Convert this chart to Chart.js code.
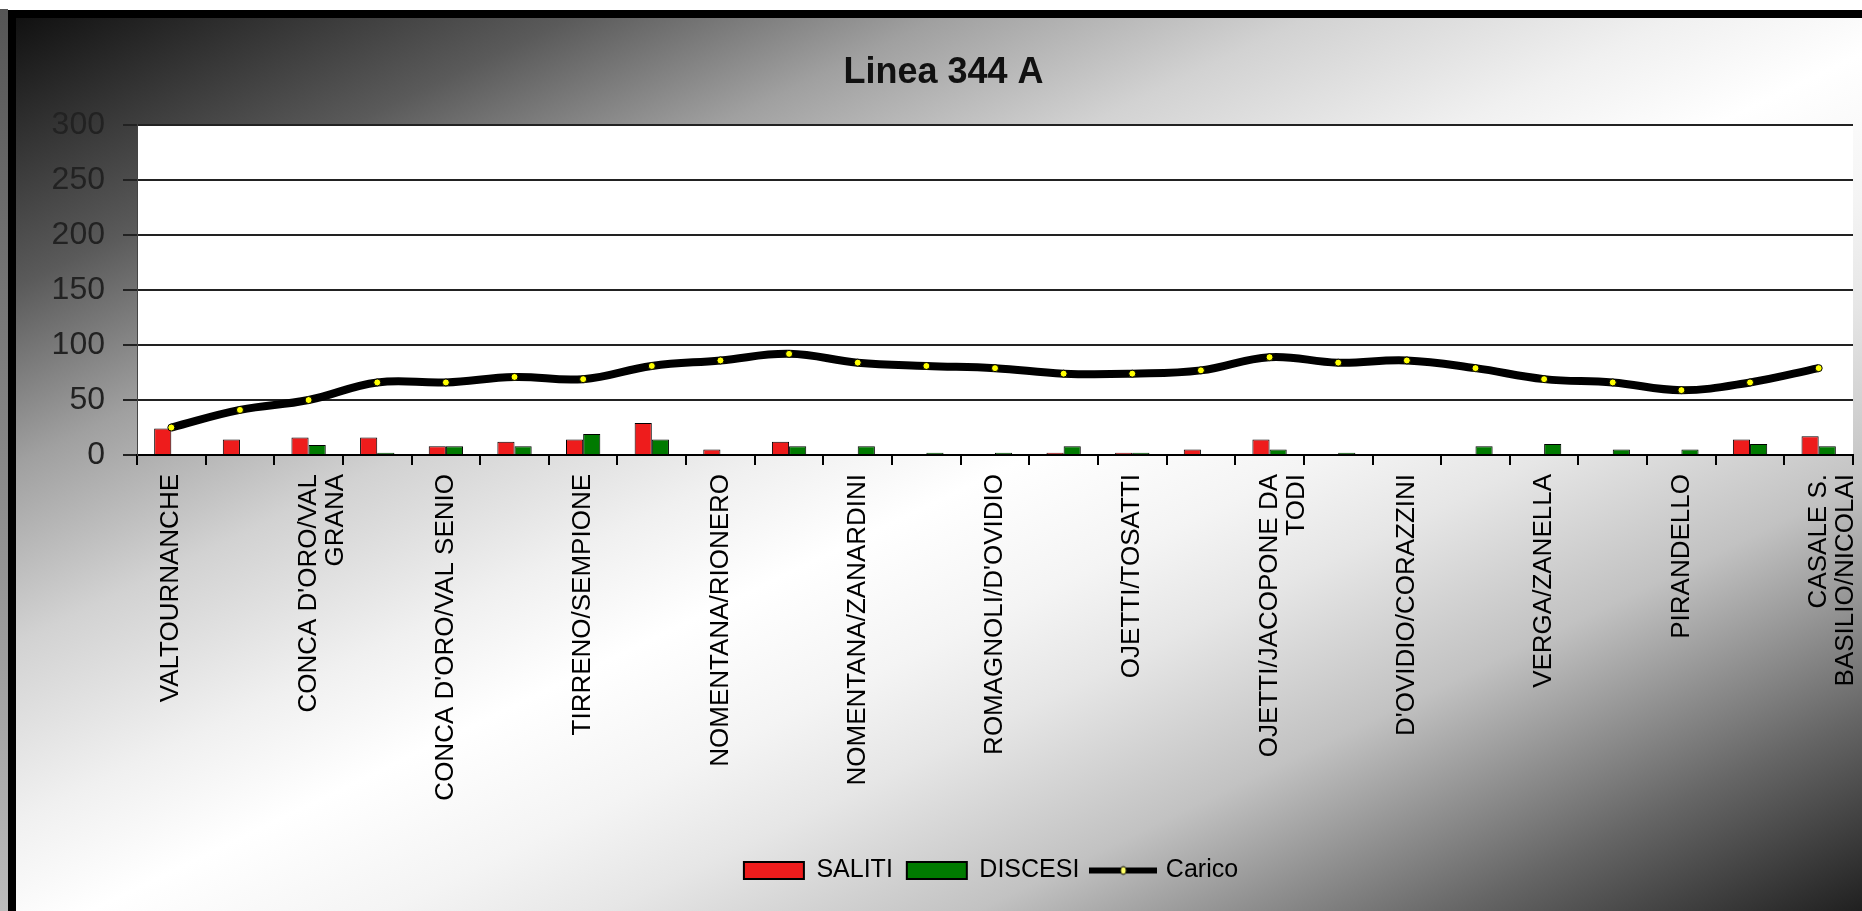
<!DOCTYPE html>
<html>
<head>
<meta charset="utf-8">
<title>Linea 344 A</title>
<script src="https://cdn.jsdelivr.net/npm/chart.js"></script>
<style>
    html, body { margin: 0; padding: 0; background: #fff; }
    body { width: 1862px; height: 911px; overflow: hidden; position: relative; }
    .edge { position: absolute; left: 0; top: 9px; width: 8px; height: 902px; background: linear-gradient(to bottom, #555, #bbb); }
    .frame { position: absolute; left: 8px; top: 10px; width: 1854px; height: 901px; box-sizing: border-box;
             border-top: 8px solid #000; border-left: 8px solid #000; }
    .inner { position: absolute; left: 0; top: 0; width: 1846px; height: 893px;
             background: linear-gradient(to bottom right, #111 0%, #5a5a5a 15%, #a0a0a0 25%, #d2d2d2 35%, #f0f0f0 45%, #fff 52%,
                         #f4f4f4 60%, #e6e6e6 66%, #c2c2c2 76%, #909090 83%, #666 89%, #202020 100%); }
</style>
</head>
<body>
<div class="edge"></div>
<div class="frame">
    <div class="inner">
        <canvas id="lineaChart"></canvas>
    </div>
</div>

<script>
// stops of line 344 A, only every other name is printed on the axis
const stops = [
    "VALTOURNANCHE", "",
    ["CONCA D'ORO/VAL", "GRANA"], "",
    "CONCA D'ORO/VAL SENIO", "",
    "TIRRENO/SEMPIONE", "",
    "NOMENTANA/RIONERO", "",
    "NOMENTANA/ZANARDINI", "",
    "ROMAGNOLI/D'OVIDIO", "",
    "OJETTI/TOSATTI", "",
    ["OJETTI/JACOPONE DA", "TODI"], "",
    "D'OVIDIO/CORAZZINI", "",
    "VERGA/ZANELLA", "",
    "PIRANDELLO", "",
    ["CASALE S.", "BASILIO/NICOLAI"]
];

const saliti  = [24, 14, 16, 16, 8, 12, 14, 29, 5, 12, 0, 0, 0, 2, 2, 5, 14, 0, 0, 0, 0, 0, 0, 14, 17];
const discesi = [0, 0, 9, 2, 8, 8, 19, 14, 0, 8, 8, 2, 2, 8, 2, 0, 5, 2, 0, 8, 10, 5, 5, 10, 8];
const carico  = [25, 41, 50, 66, 66, 71, 69, 81, 86, 92, 84, 81, 79, 74, 74, 77, 89, 84, 86, 79, 69, 66, 59, 66, 79];

const yTicks = [0, 50, 100, 150, 200, 250, 300];

Chart.defaults.font.family = "'Liberation Sans', Arial, sans-serif";
Chart.defaults.color = "#000";

// legend marker for the line: black stroke with a yellow point
function makeLineMarker() {
    const c = document.createElement("canvas");
    c.width = 68;
    c.height = 20;
    const g = c.getContext("2d");
    g.strokeStyle = "#000";
    g.lineWidth = 6;
    g.beginPath();
    g.moveTo(0, 10);
    g.lineTo(68, 10);
    g.stroke();
    g.fillStyle = "#ffff66";
    g.strokeStyle = "#000";
    g.lineWidth = 1;
    g.beginPath();
    g.ellipse(34, 10, 3, 4, 0, 0, Math.PI * 2);
    g.fill();
    g.stroke();
    return c;
}
const lineMarker = makeLineMarker();

const plotBackground = {
    id: "plotBackground",
    beforeDraw(chart) {
        const a = chart.chartArea;
        const ctx = chart.ctx;
        ctx.save();
        ctx.fillStyle = "#fff";
        ctx.fillRect(a.left, a.top, a.right - a.left, a.bottom - a.top);
        ctx.restore();
    }
};

// title and legend sit a bit right of the middle in the original
const blockShift = {
    id: "blockShift",
    afterLayout(chart) {
        if (chart.legend) chart.legend.left += 113;
        if (chart.titleBlock) chart.titleBlock.left += 18;
    }
};

new Chart(document.getElementById("lineaChart"), {
    type: "bar",
    data: {
        labels: stops,
        datasets: [
            {
                label: "SALITI",
                data: saliti,
                backgroundColor: "#ee1c1c",
                borderColor: "#000",
                borderWidth: 1,
                categoryPercentage: 0.5,
                barPercentage: 1.0,
                order: 1
            },
            {
                label: "DISCESI",
                data: discesi,
                backgroundColor: "#007a00",
                borderColor: "#000",
                borderWidth: 1,
                categoryPercentage: 0.5,
                barPercentage: 1.0,
                order: 1
            },
            {
                type: "line",
                label: "Carico",
                data: carico,
                borderColor: "#000",
                backgroundColor: "#ffff00",
                borderWidth: 8,
                tension: 0.4,
                pointRadius: 3.5,
                pointBackgroundColor: "#ffff00",
                pointBorderColor: "#000",
                pointBorderWidth: 1,
                order: 0
            }
        ]
    },
    options: {
        responsive: true,
        maintainAspectRatio: false,
        animation: false,
        layout: { padding: { left: 0, right: 9, top: 0, bottom: 18 } },
        plugins: {
            title: {
                display: true,
                text: "Linea 344 A",
                color: "#111",
                font: { size: 36, weight: "bold" },
                padding: { top: 33, bottom: 31 }
            },
            legend: {
                position: "bottom",
                labels: {
                    usePointStyle: true,
                    pointStyleWidth: 60,
                    boxHeight: 17,
                    padding: 14,
                    color: "#000",
                    font: { size: 25 },
                    generateLabels: (chart) => chart.data.datasets.map((ds, i) => ({
                        text: ds.label,
                        fillStyle: ds.backgroundColor,
                        strokeStyle: "#000",
                        lineWidth: 2,
                        pointStyle: ds.type === "line" ? lineMarker : "rect",
                        hidden: false,
                        datasetIndex: i
                    }))
                }
            },
            tooltip: { enabled: false }
        },
        scales: {
            x: {
                grid: {
                    display: true,
                    drawOnChartArea: false,
                    drawTicks: true,
                    tickLength: 10,
                    color: "#000",
                    lineWidth: 2,
                    offset: true
                },
                border: { display: true, color: "#000", width: 2 },
                ticks: {
                    autoSkip: false,
                    minRotation: 90,
                    maxRotation: 90,
                    padding: 9,
                    color: "#000",
                    font: { size: 26, lineHeight: 1.05 }
                },
                afterFit(scale) {
                    scale.height = 389;
                    scale.paddingLeft = 0;
                    scale.paddingRight = 0;
                }
            },
            y: {
                min: 0,
                max: 300,
                afterBuildTicks(scale) {
                    scale.ticks = yTicks.map(v => ({ value: v }));
                },
                grid: {
                    color: "#222",
                    lineWidth: 2,
                    drawTicks: true,
                    tickLength: 14
                },
                border: { display: true, color: "#444", width: 1 },
                ticks: {
                    padding: 18,
                    color: "#222",
                    font: { size: 32 }
                },
                afterFit(scale) {
                    scale.width = 121;
                }
            }
        }
    },
    plugins: [plotBackground, blockShift]
});
</script>
</body>
</html>
